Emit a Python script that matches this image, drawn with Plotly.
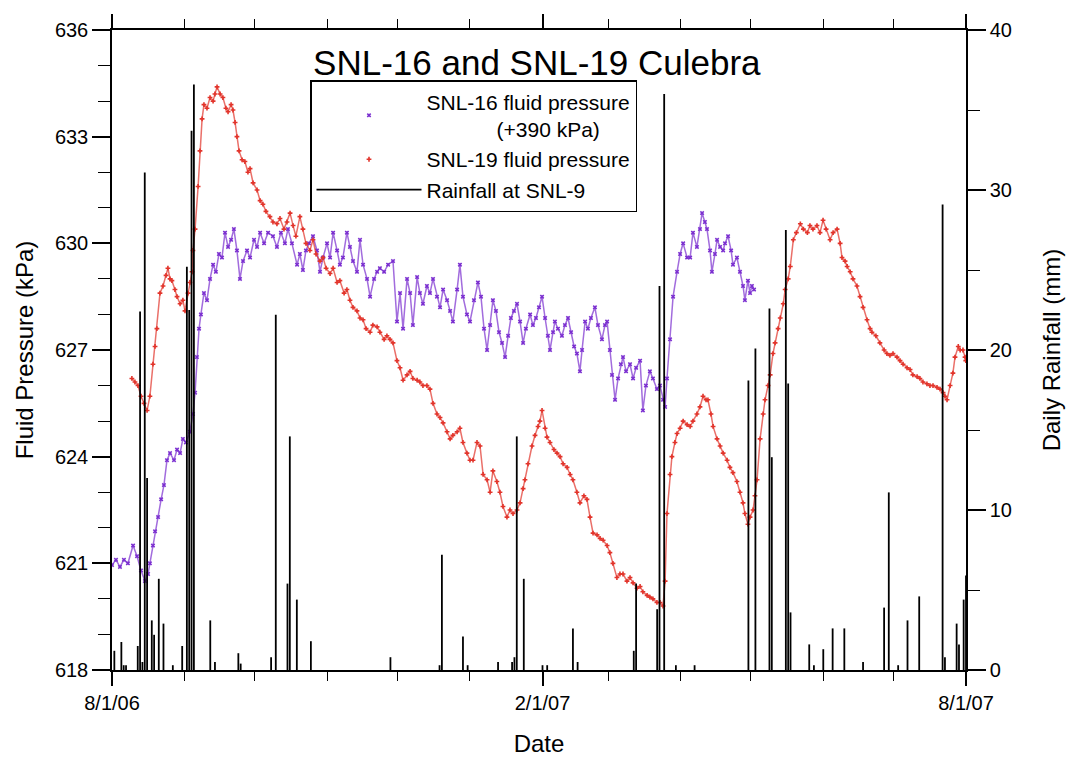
import pandas as pd
import plotly.graph_objects as go

START = pd.Timestamp("2006-08-01")

# SNL-16 fluid pressure (+390 kPa): day offset from 8/1/06, kPa
snl16_day = [0.0, 1.7, 3.4, 5.1, 6.8, 9.0, 10.7, 12.4, 14.1, 15.4, 16.2, 17.5, 18.4, 19.7, 21.0, 22.2,
             23.5, 24.8, 26.5, 27.8, 29.1, 30.3, 31.6, 33.3, 34.6, 35.5, 36.3, 37.2, 38.0, 39.3, 40.6,
             41.9, 43.2, 44.4, 45.7, 47.0, 48.3, 49.6, 50.9, 52.1, 53.4, 54.7, 56.0, 57.7, 59.0, 60.7,
             62.0, 63.3, 65.0, 66.7, 68.8, 70.5, 72.2, 73.9, 75.2, 76.9, 79.1, 80.3, 81.6, 82.9, 84.2,
             85.9, 87.6, 88.9, 90.2, 91.9, 93.2, 94.5, 96.2, 97.4, 98.7, 100.4, 101.7, 103.0, 104.7,
             106.0, 107.3, 109.0, 110.3, 112.0, 113.3, 114.5, 116.3, 118.0, 120.1, 121.8, 123.1, 124.4,
             126.1, 127.4, 128.6, 130.4, 131.6, 132.9, 134.6, 135.9, 137.2, 138.9, 140.2, 141.5, 143.2,
             144.5, 145.7, 147.5, 148.7, 150.0, 151.7, 153.0, 154.7, 156.4, 157.7, 159.0, 160.3, 161.6,
             162.8, 164.1, 165.4, 166.7, 168.0, 169.3, 170.5, 171.8, 173.1, 174.4, 175.7, 176.9, 178.7,
             179.9, 181.2, 182.5, 183.8, 185.1, 186.3, 187.2, 188.5, 189.3, 190.6, 192.3, 193.6, 194.9,
             196.2, 197.5, 198.7, 200.0, 200.9, 202.2, 203.4, 204.7, 206.4, 207.7, 209.4, 210.7, 211.6,
             212.8, 213.7, 215.0, 216.3, 217.5, 218.4, 219.7, 221.4, 222.7, 224.0, 225.7, 226.9, 228.2,
             229.9, 231.2, 232.9, 234.2, 235.5, 236.4, 237.2, 238.5, 239.8, 241.5, 242.8, 244.1, 245.8,
             247.1, 248.3, 250.0, 251.3, 252.2, 253.4, 254.3, 255.6, 256.4, 257.7, 258.6, 259.9, 261.2,
             262.0, 263.3, 264.6, 265.4, 267.1, 268.4, 269.7, 270.5, 271.8, 272.7, 273.5, 274.4]
snl16_kpa = [620.95, 621.1, 620.9, 621.1, 621.0, 621.5, 621.2, 620.8, 620.5, 620.7, 621.0, 621.5, 621.9,
             622.3, 622.8, 623.2, 623.9, 624.1, 623.9, 624.2, 624.1, 624.5, 624.4, 624.7, 625.2, 625.8,
             626.8, 627.6, 628.0, 628.6, 628.4, 629.0, 629.4, 629.2, 629.7, 629.6, 630.3, 629.9, 630.1,
             630.4, 629.8, 629.0, 629.5, 629.8, 629.6, 630.1, 629.9, 630.3, 630.0, 630.3, 630.2, 629.9,
             630.3, 630.0, 630.4, 630.0, 629.4, 629.7, 629.25, 629.8, 630.0, 630.2, 629.8, 629.2, 629.6,
             630.0, 629.6, 630.3, 629.8, 629.4, 629.6, 630.3, 629.9, 629.5, 629.2, 630.1, 629.4, 629.0,
             628.5, 629.0, 629.2, 629.3, 629.2, 629.4, 629.5, 627.8, 628.6, 627.6, 629.0, 628.6, 627.7,
             629.05, 628.6, 628.3, 628.8, 628.6, 629.0, 628.5, 628.2, 628.7, 628.4, 628.1, 627.8, 628.7,
             629.4, 628.5, 628.0, 627.8, 628.4, 628.9, 628.5, 627.6, 627.0, 627.7, 628.4, 628.1, 627.5,
             627.2, 626.8, 627.4, 627.9, 628.1, 628.3, 627.8, 627.2, 627.6, 628.0, 627.7, 627.9, 628.2,
             628.5, 627.9, 627.4, 627.0, 627.5, 627.8, 627.6, 627.4, 627.7, 627.9, 627.5, 627.1, 626.9,
             626.4, 627.0, 627.8, 627.6, 627.9, 628.2, 627.7, 627.3, 627.7, 627.8, 627.0, 626.3, 625.6,
             626.2, 626.6, 626.8, 626.4, 626.6, 626.2, 626.5, 626.7, 625.3, 626.0, 626.4, 626.2, 625.9,
             626.0, 625.6, 625.4, 626.2, 627.3, 628.5, 629.2, 629.7, 630.0, 629.6, 629.6, 630.3, 629.9,
             630.4, 630.85, 630.6, 630.4, 629.8, 629.2, 629.7, 630.1, 629.9, 629.8, 630.0, 630.2, 629.8,
             629.4, 629.6, 629.2, 628.8, 628.4, 628.95, 628.6, 628.8, 628.7]

# SNL-19 fluid pressure: day offset from 8/1/06, kPa
snl19_day = [8.5, 9.8, 11.1, 12.4, 13.7, 15.0, 16.2, 17.5, 18.4, 19.2, 20.5, 21.8, 23.1, 23.9, 24.8, 25.6,
             26.9, 27.8, 29.1, 30.3, 31.2, 32.5, 33.3, 34.2, 34.6, 35.5, 36.8, 37.6, 38.5, 39.3, 40.6,
             41.9, 43.2, 44.0, 44.9, 46.2, 47.4, 48.7, 49.6, 50.9, 51.7, 52.6, 53.4, 54.3, 55.6, 56.8,
             58.1, 59.0, 60.3, 62.0, 63.3, 64.5, 65.8, 67.5, 68.8, 70.5, 71.8, 73.5, 74.8, 76.1, 77.4,
             78.6, 80.3, 81.6, 82.9, 84.6, 85.9, 87.2, 88.9, 90.2, 91.5, 93.2, 94.5, 96.2, 97.4, 99.2,
             100.4, 101.7, 103.0, 104.7, 106.0, 107.3, 108.6, 110.3, 111.5, 113.3, 114.5, 116.3, 117.5,
             118.8, 120.1, 121.8, 123.1, 124.4, 126.1, 127.4, 128.6, 130.4, 131.6, 132.9, 134.6, 135.9,
             137.2, 138.9, 140.2, 141.5, 143.2, 144.5, 145.7, 147.5, 148.7, 150.0, 151.7, 153.0, 154.3,
             156.0, 157.3, 158.6, 160.3, 161.6, 162.8, 164.5, 165.8, 167.1, 168.8, 170.1, 171.4, 173.1,
             174.4, 175.7, 176.5, 177.8, 179.5, 180.8, 182.1, 182.9, 183.8, 185.1, 185.9, 187.2, 188.9,
             190.2, 191.5, 192.8, 194.5, 195.8, 197.0, 198.7, 200.0, 201.7, 203.0, 204.3, 205.6, 207.3,
             208.6, 209.9, 211.6, 212.8, 214.1, 215.8, 217.1, 218.4, 220.1, 221.4, 222.7, 224.4, 225.7,
             226.9, 228.7, 229.9, 231.2, 232.9, 234.2, 235.5, 236.4, 237.2, 238.5, 239.3, 240.6, 241.5,
             242.8, 244.1, 245.8, 247.1, 248.3, 250.0, 251.3, 252.6, 253.9, 254.7, 256.0, 256.9, 258.6,
             259.9, 261.2, 262.9, 264.1, 265.4, 267.1, 268.4, 269.7, 270.5, 271.8, 272.7, 274.0, 274.8,
             275.7, 277.0, 278.3, 279.1, 280.4, 281.3, 282.5, 283.4, 284.7, 285.6, 286.9, 287.7, 289.0,
             289.9, 291.2, 292.5, 294.2, 295.5, 297.2, 298.3, 299.6, 301.3, 302.6, 303.9, 305.2, 306.9,
             308.2, 309.9, 311.2, 312.0, 313.3, 314.2, 315.5, 316.7, 318.4, 319.7, 321.0, 322.7, 324.0,
             324.8, 326.5, 328.2, 330.0, 331.2, 332.5, 333.8, 335.5, 336.8, 338.1, 339.8, 341.1, 342.3,
             344.1, 345.3, 346.6, 348.3, 349.6, 350.9, 352.6, 353.9, 355.2, 356.0, 356.9, 358.2, 359.4,
             360.3, 361.7, 362.5, 363.7, 364.6, 364.9]
snl19_kpa = [626.2, 626.1, 626.0, 625.7, 625.5, 625.3, 625.7, 626.6, 627.1, 627.6, 628.6, 628.8, 629.1,
             629.3, 629.0, 628.95, 628.7, 628.5, 628.3, 628.4, 628.1, 628.6, 628.9, 629.2, 629.8, 630.4,
             631.6, 632.6, 633.5, 633.9, 633.8, 634.1, 634.0, 634.2, 634.4, 634.2, 634.1, 633.8, 633.7,
             633.9, 633.75, 633.4, 633.0, 632.6, 632.35, 632.3, 632.0, 632.1, 631.7, 631.5, 631.2, 631.1,
             630.9, 630.75, 630.6, 630.55, 630.7, 630.4, 630.6, 630.85, 630.5, 630.2, 630.75, 630.4,
             630.0, 629.8, 630.1, 629.7, 629.5, 629.6, 629.3, 629.15, 629.3, 628.9, 628.95, 628.6, 628.7,
             628.4, 628.2, 628.1, 627.9, 627.85, 627.6, 627.5, 627.7, 627.65, 627.5, 627.3, 627.4, 627.3,
             627.2, 626.7, 626.5, 626.15, 626.3, 626.4, 626.2, 626.15, 626.1, 626.0, 626.0, 625.9, 625.5,
             625.2, 625.1, 624.95, 624.7, 624.5, 624.6, 624.7, 624.8, 624.4, 624.1, 623.9, 623.9, 624.4,
             624.3, 623.5, 623.35, 623.0, 623.6, 623.3, 623.0, 622.6, 622.3, 622.5, 622.4, 622.5, 622.7,
             623.1, 623.35, 623.8, 624.3, 624.6, 624.85, 625.0, 625.3, 624.8, 624.55, 624.4, 624.2, 624.1,
             624.0, 623.8, 623.7, 623.5, 623.35, 623.0, 622.7, 622.9, 622.8, 622.3, 621.85, 621.8, 621.7,
             621.65, 621.5, 621.3, 621.0, 620.6, 620.7, 620.7, 620.5, 620.6, 620.45, 620.3, 620.35, 620.2,
             620.1, 620.05, 620.0, 619.9, 619.9, 619.8, 620.5, 622.4, 623.5, 624.0, 624.4, 624.65, 624.8,
             625.0, 624.9, 624.85, 625.0, 625.2, 625.4, 625.7, 625.6, 625.6, 625.2, 624.85, 624.5, 624.3,
             624.1, 623.9, 623.7, 623.55, 623.3, 623.0, 622.7, 622.4, 622.1, 622.3, 622.5, 622.9, 623.35,
             624.5, 625.2, 625.6, 626.0, 626.3, 626.9, 627.2, 627.6, 627.9, 628.3, 628.7, 629.0, 629.35,
             630.1, 630.3, 630.55, 630.4, 630.3, 630.5, 630.4, 630.5, 630.3, 630.65, 630.4, 630.1, 630.3,
             630.4, 630.0, 629.6, 629.5, 629.35, 629.2, 629.0, 628.8, 628.5, 628.2, 627.85, 627.6, 627.5,
             627.4, 627.2, 627.0, 626.9, 626.85, 626.9, 626.8, 626.7, 626.6, 626.5, 626.45, 626.3, 626.25,
             626.2, 626.1, 626.05, 626.0, 626.0, 625.95, 625.9, 625.8, 625.7, 625.6, 626.0, 626.35, 626.8,
             627.1, 627.0, 627.0, 626.8, 626.7]

# Daily rainfall at SNL-9: day offset from 8/1/06, mm
rain_day = [1, 4, 5, 6, 11, 12, 13, 14, 15, 17, 18, 20, 22, 26, 30, 32, 33, 34, 35, 42, 44, 54, 55,
            68, 70, 75, 76, 79, 85, 119, 140, 141, 150, 152, 165, 171, 172, 173, 176, 184, 186, 197,
            199, 223, 224, 233, 234, 236, 241, 249, 272, 275, 281, 282, 288, 289, 290, 298, 300, 304,
            308, 313, 321, 330, 332, 336, 340, 345, 355, 356, 361, 362, 364, 365]
rain_mm = [1.2, 1.75, 0.3, 0.3, 1.5, 22.4, 0.5, 31.1, 12.0, 3.1, 2.2, 5.7, 2.9, 0.3, 1.5, 25.2, 22.5,
           33.7, 36.6, 3.1, 0.5, 1.05, 0.4, 0.8, 22.2, 5.4, 14.6, 4.4, 1.8, 0.8, 0.3, 7.2, 2.1, 0.3,
           0.5, 0.5, 0.8, 14.6, 5.7, 0.3, 0.3, 2.6, 0.5, 1.2, 5.4, 3.8, 24.0, 36.0, 0.3, 0.3, 18.1,
           20.1, 22.6, 13.3, 27.5, 17.9, 3.6, 1.6, 0.3, 1.3, 2.6, 2.6, 0.5, 3.9, 11.1, 0.3, 3.1, 4.6,
           29.1, 0.8, 2.9, 1.6, 4.4, 5.9]

to_date = lambda days: [START + pd.Timedelta(days=d) for d in days]
d16 = to_date(snl16_day)
d19 = to_date(snl19_day)

rx, ry = [], []
for d, r in zip(rain_day, rain_mm):
    t = START + pd.Timedelta(days=d)
    rx += [t, t, None]
    ry += [0, r, None]

PURPLE = "#7b2fd0"
RED = "#e2342b"
FONT = "Liberation Sans, Arial, sans-serif"
NB = "\u00a0"
XRANGE = ["2006-08-01", "2007-08-01"]

fig = go.Figure()
fig.add_trace(go.Scatter(x=d16, y=snl16_kpa, mode="lines", line=dict(color=PURPLE, width=1.5),
                         opacity=0.7, showlegend=False, hoverinfo="skip"))
fig.add_trace(go.Scatter(x=d16, y=snl16_kpa, mode="markers",
                         name="SNL-16 fluid pressure<br>" + NB * 12 + "(+390 kPa)",
                         marker=dict(symbol="x", size=4, color=PURPLE)))
fig.add_trace(go.Scatter(x=d19, y=snl19_kpa, mode="lines", line=dict(color=RED, width=1.5),
                         opacity=0.7, showlegend=False, hoverinfo="skip"))
fig.add_trace(go.Scatter(x=d19, y=snl19_kpa, mode="markers", name="SNL-19 fluid pressure",
                         marker=dict(symbol="cross", size=4, color=RED)))
fig.add_trace(go.Scatter(x=rx, y=ry, mode="lines", name="Rainfall at SNL-9", xaxis="x2", yaxis="y2",
                         line=dict(color="black", width=1.8)))

common_x = dict(type="date", range=XRANGE, tick0="2006-08-01", dtick="M6",
                ticks="outside", ticklen=14, tickwidth=1.5, tickcolor="black", automargin=False,
                showline=True, linecolor="black", linewidth=1.5, showgrid=False, zeroline=False,
                minor=dict(tick0="2006-08-01", dtick="M1", ticks="outside", ticklen=9, tickwidth=1.2,
                           tickcolor="black", showgrid=False))

fig.update_layout(
    width=1078, height=761,
    margin=dict(l=112, r=112, t=30, b=91),
    paper_bgcolor="white", plot_bgcolor="white",
    font=dict(family=FONT, size=20, color="black"),
    title=dict(text="SNL-16 and SNL-19 Culebra", x=0.498, xanchor="center", y=1 - 63 / 761,
               yanchor="middle", font=dict(size=35, family=FONT)),
    xaxis=dict(**common_x, tickformat="%-m/%-d/%y", tickfont=dict(size=20),
               title=dict(text="Date", font=dict(size=24), standoff=22)),
    xaxis2=dict(**common_x, overlaying="x", side="top", anchor="y2", showticklabels=False),
    yaxis=dict(range=[618, 636], tick0=618, dtick=3, ticks="outside", ticklen=18, tickwidth=1.5,
               tickcolor="black", showline=True, linecolor="black", linewidth=1.5, showgrid=False,
               zeroline=False, tickfont=dict(size=20), automargin=False,
               minor=dict(dtick=1, ticks="outside", ticklen=12, tickcolor="black",
                          tickwidth=1.2, showgrid=False),
               title=dict(text="Fluid Pressure (kPa)", font=dict(size=24), standoff=14)),
    yaxis2=dict(range=[0, 40], tick0=0, dtick=10, overlaying="y", side="right", anchor="x",
                ticks="outside", automargin=False,
                ticklen=18, tickwidth=1.5, tickcolor="black", showline=True, linecolor="black",
                linewidth=1.5, showgrid=False, zeroline=False, tickfont=dict(size=20),
                minor=dict(dtick=5, ticks="outside", ticklen=12, tickcolor="black", tickwidth=1.2,
                           showgrid=False),
                title=dict(text="Daily Rainfall (mm)", font=dict(size=24), standoff=32)),
    legend=dict(x=(310 - 112) / 854, y=(670 - 80) / 640, xanchor="left", yanchor="top",
                bordercolor="black", borderwidth=1.5, bgcolor="white", font=dict(size=21),
                itemwidth=105, tracegroupgap=0),
    showlegend=True,
)

fig.write_html("out.html")
